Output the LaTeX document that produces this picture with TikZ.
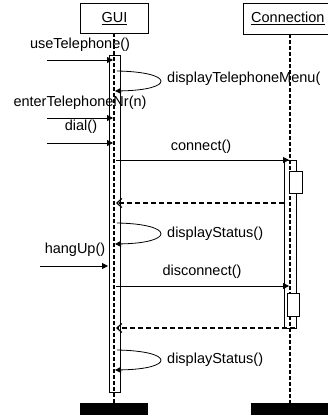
\documentclass[tikz,border=0pt]{standalone}
\usepackage{fontspec}
\setmainfont{Liberation Sans}
\usetikzlibrary{arrows.meta}
\begin{document}
\begin{tikzpicture}[x=1pt,y=-1pt,
  txt/.style={font=\fontsize{14.5}{17}\selectfont, inner sep=0pt},
  headbox/.style={draw, line width=0.8pt, fill=white},
  lifeline/.style={line width=1.2pt, dash pattern=on 4pt off 2pt},
  actbar/.style={draw, line width=0.7pt},
  nestbox/.style={draw, line width=0.7pt, fill=white},
  msg/.style={line width=0.8pt, -{Triangle[length=6pt,width=6pt]}},
  selfmsg/.style={line width=0.8pt, -{Triangle[length=6pt,width=6pt]}},
  ret/.style={line width=1.2pt, dash pattern=on 5pt off 3pt, -{Straight Barb[length=5pt,width=9pt]}},
  endbar/.style={fill=black}
]
\useasboundingbox (0,0) rectangle (328,415);
\clip (0,0) rectangle (328,415);

% heads
\node[headbox, minimum width=68pt, minimum height=30pt, anchor=north west] (guibox) at (80,3) {};
\node[txt] (guilabel) at (guibox.center) {\underline{GUI}};
\node[headbox, minimum width=100pt, minimum height=31pt, anchor=north west] (conbox) at (243,3) {};
\node[txt, anchor=west] (conlabel) at (251,18) {\underline{Connection}};

% lifelines
\coordinate (gtop) at (114,33);
\coordinate (gbot) at (114,403);
\coordinate (ctop) at (290,34);
\coordinate (cbot) at (290,403);
\draw[lifeline] (gtop) -- (gbot);
\draw[lifeline] (ctop) -- (cbot);

% activation bars
\draw[actbar] (109,55) rectangle (120,392);
\draw[actbar] (284,160) rectangle (296,328);
\node[nestbox, minimum width=13pt, minimum height=22pt, anchor=north west] (nest1) at (289,171) {};
\node[nestbox, minimum width=12pt, minimum height=23pt, anchor=north west] (nest2) at (287,293) {};

% termination bars
\node[endbar, minimum width=68pt, minimum height=12pt, anchor=north west, inner sep=0pt] (gend) at (80,403) {};
\node[endbar, minimum width=90pt, minimum height=12pt, anchor=north west, inner sep=0pt] (cend) at (251,403) {};

% message coordinates
\coordinate (m1a) at (47,60);   \coordinate (m1b) at (113,60);
\coordinate (s1a) at (117,71);  \coordinate (s1b) at (115,91);
\coordinate (m2a) at (47,118);  \coordinate (m2b) at (113,118);
\coordinate (m3a) at (47,143);  \coordinate (m3b) at (113,143);
\coordinate (m4a) at (116,160); \coordinate (m4b) at (289,160);
\coordinate (r1a) at (284,203); \coordinate (r1b) at (116,203);
\coordinate (s2a) at (117,223); \coordinate (s2b) at (115,244);
\coordinate (m5a) at (40,266);  \coordinate (m5b) at (108,266);
\coordinate (m6a) at (116,286); \coordinate (m6b) at (289,286);
\coordinate (r2a) at (295,328); \coordinate (r2b) at (116,328);
\coordinate (s3a) at (117,350); \coordinate (s3b) at (115,370);

% messages
\node[txt] (l1) at (80,45) {useTelephone()};
\draw[msg] (m1a) -- (m1b);

\draw[selfmsg] (s1a) .. controls +(58,1) and +(60,-1) .. (s1b);
\node[txt, anchor=west] (l2) at (167,79) {displayTelephoneMenu(};

\node[txt] (l3) at (80,103) {enterTelephoneNr(n)};
\draw[msg] (m2a) -- (m2b);

\node[txt] (l4) at (81,127) {dial()};
\draw[msg] (m3a) -- (m3b);

\node[txt] (l5) at (201,147) {connect()};
\draw[msg] (m4a) -- (m4b);

\draw[ret] (r1a) -- (r1b);

\draw[selfmsg] (s2a) .. controls +(58,1) and +(60,-1) .. (s2b);
\node[txt, anchor=west] (l6) at (167,234) {displayStatus()};

\node[txt] (l7) at (75,250) {hangUp()};
\draw[msg] (m5a) -- (m5b);

\node[txt] (l8) at (202,272) {disconnect()};
\draw[msg] (m6a) -- (m6b);

\draw[ret] (r2a) -- (r2b);

\draw[selfmsg] (s3a) .. controls +(58,1) and +(60,-1) .. (s3b);
\node[txt, anchor=west] (l9) at (167,360) {displayStatus()};
\end{tikzpicture}
\end{document}
